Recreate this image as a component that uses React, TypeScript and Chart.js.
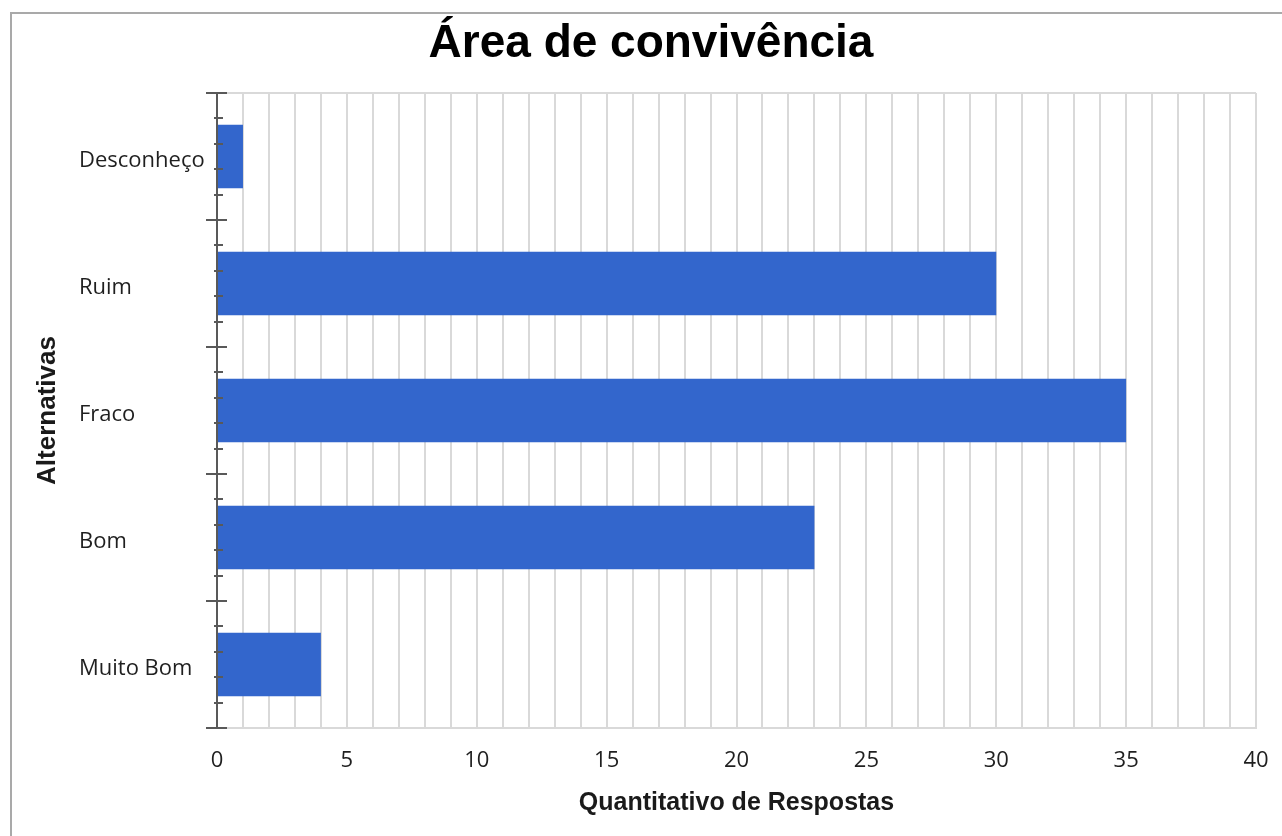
import React, { useEffect, useRef } from 'react';
import { Chart, registerables } from 'chart.js';

Chart.register(...registerables);

const chartTitle = 'Área de convivência';
const xAxisTitle = 'Quantitativo de Respostas';
const yAxisTitle = 'Alternativas';
const categories = ['Desconheço', 'Ruim', 'Fraco', 'Bom', 'Muito Bom'];
const values = [1, 30, 35, 23, 4];
const xMin = 0;
const xMax = 40;
const xLabelStep = 5;

const decorPlugin = {
  id: 'axisDecor',
  afterDatasetsDraw(chart: any) {
    const { ctx, chartArea } = chart;
    const { left, right, top, bottom } = chartArea;
    const y = chart.scales.y;
    ctx.save();
    // top frame line of plot
    ctx.strokeStyle = '#d9d9d9';
    ctx.lineWidth = 2;
    ctx.beginPath();
    ctx.moveTo(left, top);
    ctx.lineTo(right, top);
    ctx.stroke();
    // y axis line
    const ax = Math.round(left);
    ctx.strokeStyle = '#595959';
    ctx.lineWidth = 2;
    ctx.beginPath();
    ctx.moveTo(ax, top);
    ctx.lineTo(ax, bottom);
    ctx.stroke();
    const n = categories.length;
    for (let i = 0; i <= n; i++) {
      const py = Math.round(y.getPixelForValue(i - 0.5));
      ctx.beginPath();
      ctx.moveTo(ax - 11, py);
      ctx.lineTo(ax + 10, py);
      ctx.stroke();
      if (i < n) {
        for (let k = 1; k < 5; k++) {
          const my = Math.round(y.getPixelForValue(i - 0.5 + k / 5));
          ctx.beginPath();
          ctx.moveTo(ax - 3, my);
          ctx.lineTo(ax + 6, my);
          ctx.stroke();
        }
      }
    }
    ctx.restore();
  },
  afterDraw(chart: any) {
    const { ctx, chartArea } = chart;
    // y axis title
    ctx.save();
    ctx.translate(36, (chartArea.top + chartArea.bottom) / 2);
    ctx.rotate(-Math.PI / 2);
    ctx.font = 'bold 26px "Liberation Sans", Arial, sans-serif';
    ctx.fillStyle = '#1a1a1a';
    ctx.textAlign = 'center';
    ctx.textBaseline = 'middle';
    ctx.fillText(yAxisTitle, 0, 0);
    ctx.restore();
    // chart title
    ctx.save();
    ctx.font = 'bold 46px "Liberation Sans", Arial, sans-serif';
    ctx.fillStyle = '#000';
    ctx.textAlign = 'center';
    ctx.textBaseline = 'alphabetic';
    ctx.fillText(chartTitle, 639, 43);
    ctx.restore();
  },
};

export default function App() {
  const ref = useRef<HTMLCanvasElement>(null);

  useEffect(() => {
    if (!ref.current) return;
    const chart = new Chart(ref.current, {
      type: 'bar',
      data: {
        labels: categories,
        datasets: [
          {
            data: values,
            backgroundColor: '#3366cc',
            borderWidth: 0,
            barPercentage: 0.5,
            categoryPercentage: 1,
          },
        ],
      },
      options: {
        indexAxis: 'y',
        responsive: false,
        animation: false,
        devicePixelRatio: 1,
        layout: { padding: { left: 67, right: 36, top: 79, bottom: 0 } },
        plugins: {
          legend: { display: false },
          tooltip: { enabled: false },
          title: { display: false },
        },
        scales: {
          x: {
            type: 'linear',
            min: xMin,
            max: xMax,
            ticks: {
              stepSize: 1,
              autoSkip: false,
              maxRotation: 0,
              padding: 20,
              color: '#1f1f1f',
              font: { family: '"Open Sans", sans-serif', size: 22 },
              callback: (v: any) => (Number(v) % xLabelStep === 0 ? String(v) : ''),
            },
            grid: { color: '#d9d9d9', lineWidth: 2, drawTicks: false },
            border: { display: true, color: '#d9d9d9', width: 2 },
            title: {
              display: true,
              text: xAxisTitle,
              color: '#1a1a1a',
              font: { family: '"Liberation Sans", Arial, sans-serif', size: 25, weight: 'bold', lineHeight: 1.2 },
              padding: { top: 0, bottom: 18 },
            },
            afterFit: (s: any) => {
              s.height = 108;
            },
          },
          y: {
            type: 'category',
            ticks: {
              crossAlign: 'far',
              padding: 0,
              color: '#1f1f1f',
              font: { family: '"Open Sans", sans-serif', size: 22, lineHeight: 0.36 },
              callback: function (this: any, v: any) {
                return ['', this.getLabelForValue(v)];
              },
            },
            grid: { display: false },
            border: { display: false },
            afterFit: (s: any) => {
              s.width = 138;
            },
          },
        },
      },
      plugins: [decorPlugin],
    } as any);
    return () => chart.destroy();
  }, []);

  return (
    <div style={{ position: 'fixed', left: 0, top: 0, width: 1282, height: 836, overflow: 'hidden', background: '#fff' }}>
      <div
        style={{
          position: 'absolute',
          left: 10,
          top: 12,
          width: 1300,
          height: 840,
          borderLeft: '2px solid #a9a9a9',
          borderTop: '2px solid #a9a9a9',
        }}
      >
        <canvas ref={ref} width={1280} height={822} style={{ display: 'block' }} />
      </div>
    </div>
  );
}
